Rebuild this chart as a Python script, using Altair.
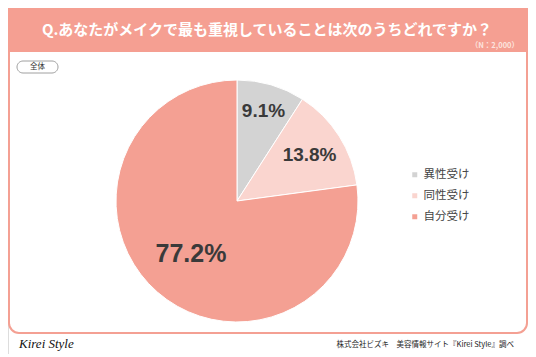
import altair as alt
import pandas as pd

categories = ["異性受け", "同性受け", "自分受け"]
values = [9.1, 13.8, 77.2]
colors = ["#D3D3D3", "#FAD5CF", "#F4A093"]

title_text = "Q.あなたがメイクで最も重視していることは次のうちどれですか？"
n_text = "（N：2,000）"
badge_text = "全体"
logo_text = "Kirei Style"
source_text = "株式会社ビズキ　美容情報サイト『Kirei Style』調べ"

df = pd.DataFrame({"cat": categories, "val": values, "ord": list(range(len(categories)))})
df["label"] = df["val"].map(lambda v: f"{v:.1f}%")

SALMON = "#F4A093"
JP = "Noto Sans CJK JP"
CX, CY = 229, 193

one = pd.DataFrame({"a": [0]})
base1 = alt.Chart(one)

card = base1.mark_rect(fill="white", stroke=SALMON, strokeWidth=2, cornerRadius=10).encode(
    x=alt.value(1), x2=alt.value(519), y=alt.value(-10), y2=alt.value(325))
header = base1.mark_rect(fill="#F59F92", cornerRadiusTopLeft=10, cornerRadiusTopRight=10).encode(
    x=alt.value(0), x2=alt.value(520), y=alt.value(-10), y2=alt.value(44))
title = base1.mark_text(text=title_text, font=JP, fontSize=15, fontWeight="bold", color="white",
                        align="center", baseline="middle").encode(x=alt.value(259), y=alt.value(22))
ntext = base1.mark_text(text=n_text, font=JP, fontSize=7.5, fontWeight="bold", color="#FCE3DE",
                        align="right", baseline="middle").encode(x=alt.value(511), y=alt.value(38))
pill = base1.mark_rect(fill="white", stroke="#888888", strokeWidth=0.8, cornerRadius=6).encode(
    x=alt.value(9), x2=alt.value(50), y=alt.value(53), y2=alt.value(65))
pilltext = base1.mark_text(text=badge_text, font=JP, fontSize=7.5, color="#333333",
                           align="center", baseline="middle").encode(x=alt.value(29.5), y=alt.value(59))
logo = base1.mark_text(text=logo_text, font="Liberation Serif", fontSize=13, fontStyle="italic",
                       color="#111111", align="left", baseline="middle").encode(x=alt.value(11), y=alt.value(336))
source = base1.mark_text(text=source_text, font=JP, fontSize=7.5, color="#222222",
                         align="right", baseline="middle").encode(x=alt.value(506), y=alt.value(337))

base = alt.Chart(df)
theta = alt.Theta("val:Q", stack=True)
order = alt.Order("ord:Q", sort="ascending")

pie = base.mark_arc(radius=121, stroke="white", strokeWidth=1).encode(
    theta=theta, order=order,
    color=alt.Color("cat:N", scale=alt.Scale(domain=categories, range=colors),
                    legend=alt.Legend(title=None, orient="none", legendX=401, legendY=161,
                                      symbolType="square", symbolSize=25, symbolStrokeWidth=0,
                                      labelFont=JP, labelFontSize=11.5, labelColor="#444444",
                                      rowPadding=8, labelOffset=3, padding=0)),
    x=alt.value(CX), y=alt.value(CY))

def lab(cat, r, fs):
    return base.mark_text(radius=r, font="Liberation Sans", fontWeight="bold", fontSize=fs,
                          color="#3A3A3A", align="center", baseline="middle").encode(
        theta=theta, order=order,
        text=alt.condition(alt.datum.cat == cat, "label:N", alt.value("")),
        x=alt.value(CX), y=alt.value(CY))

labels = [lab(categories[0], 94, 19), lab(categories[1], 86, 19), lab(categories[2], 70, 25)]

chart = alt.layer(card, header, title, ntext, pill, pilltext, logo, source, pie, *labels).properties(
    width=520, height=346, padding=0, autosize=alt.AutoSizeParams(type="none")
).configure_view(stroke=None).configure(background="white")

chart.save("out.html", embed_options={"renderer": "svg", "actions": False})
